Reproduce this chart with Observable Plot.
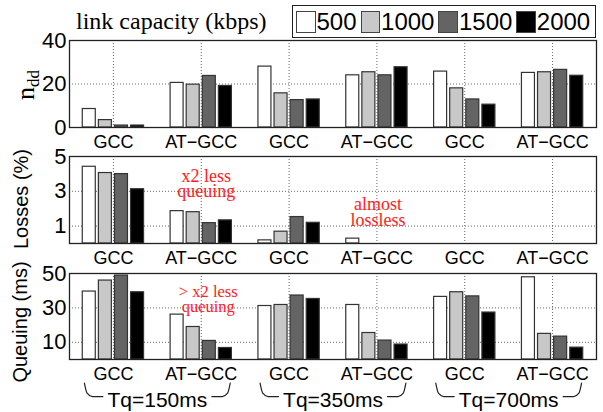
<!DOCTYPE html>
<html>
<head>
<meta charset="utf-8">
<script src="https://cdn.jsdelivr.net/npm/d3@7"></script>
<script src="https://cdn.jsdelivr.net/npm/@observablehq/plot@0.6"></script>
<style>
  body { margin: 0; background: #fff; }
  #chart { position: relative; width: 603px; height: 412px; overflow: hidden; background: #fff; }
  .panel { position: absolute; left: 0; }
  #legendTitle { position: absolute; left: 76px; top: 9px; font-family: "Liberation Serif", "Times New Roman", serif; font-size: 24px; line-height: 24px; white-space: nowrap; }
  #legend { position: absolute; left: 292px; top: 5px; width: 304px; height: 33px; box-sizing: border-box; border: 1.5px solid #222; display: flex; align-items: center; padding-left: 3px; background: #fff; }
  .sw { width: 19.5px; height: 22px; box-sizing: border-box; border: 1.2px solid #444; margin-right: 1px; }
  .lab { font-family: "Liberation Sans", Arial, sans-serif; font-size: 24px; line-height: 24px; margin-right: 4px; }
  .ylab { position: absolute; white-space: nowrap; transform: translate(-50%, -50%) rotate(-90deg); line-height: 1; }
  .ylab.sans { font-family: "Liberation Sans", Arial, sans-serif; font-size: 20px; }
  .ylab.serif { font-family: "Liberation Serif", "Times New Roman", serif; font-size: 26px; }
  .ylab sub { font-size: 17px; vertical-align: -5px; line-height: 1; }
</style>
</head>
<body>
<div id="chart"></div>
<script>
// ---------- data ----------
const groups = ["GCC 150", "AT-GCC 150", "GCC 350", "AT-GCC 350", "GCC 700", "AT-GCC 700"];
const groupLabels = {"GCC": "GCC", "AT-GCC": "AT\u2212GCC"};
const capacities = ["500", "1000", "1500", "2000"];
const capacityColors = ["#ffffff", "#c8c8c8", "#646464", "#000000"];
const tqLabels = ["Tq=150ms", "Tq=350ms", "Tq=700ms"];

const ndd500  = [8.5, 20.5, 28.0, 24.0, 25.7, 25.1];
const ndd1000 = [3.4, 19.7, 15.7, 25.4, 18.0, 25.4];
const ndd1500 = [0.9, 23.7, 12.6, 24.0, 12.9, 26.5];
const ndd2000 = [0.9, 19.1, 12.9, 27.7, 10.5, 23.8];

const loss500  = [4.41, 1.86, 0.18, 0.28, 0, 0];
const loss1000 = [4.05, 1.80, 0.68, 0, 0, 0];
const loss1500 = [3.99, 1.17, 1.52, 0, 0, 0];
const loss2000 = [3.12, 1.33, 1.19, 0, 0, 0];

const queue500  = [39.5, 26.1, 31.1, 31.7, 36.4, 47.8];
const queue1000 = [45.9, 18.9, 31.7, 15.4, 39.1, 14.9];
const queue1500 = [48.8, 10.8, 37.2, 11.0, 36.7, 13.3];
const queue2000 = [39.1, 6.7, 35.2, 8.7, 27.3, 6.9];

const nddTicks = [0, 20, 40];
const lossTicks = [1, 3, 5];
const queueTicks = [10, 30, 50];

// ---------- helpers ----------
const SANS = "Liberation Sans, Arial, Helvetica, sans-serif";
const SERIF = "Liberation Serif, Times New Roman, serif";
const W = 603, ML = 69, MR = 7;
const chart = document.getElementById("chart");
const red = "#ff2020";

function rows(seriesArrays) {
  const out = [];
  seriesArrays.forEach((arr, j) => arr.forEach((v, i) => out.push({group: groups[i], capacity: capacities[j], value: v})));
  return out;
}

function panel({data, yDomain, yTicks, top, plotH, extra}) {
  const marginTop = 10, marginBottom = 28;
  const bw = (W - ML - MR) / groups.length;
  const barW = 13, step = 16.1;
  const inset = (bw - barW) / 2;
  const grid = {stroke: "#666", strokeOpacity: 1, strokeDasharray: "1,2", strokeWidth: 1};
  const p = Plot.plot({
    width: W, height: marginTop + plotH + marginBottom,
    marginLeft: ML, marginRight: MR, marginTop, marginBottom,
    style: {fontFamily: SANS, background: "transparent", overflow: "visible", color: "#000"},
    x: {domain: groups, padding: 0, round: false, axis: null},
    y: {domain: yDomain, axis: null},
    color: {domain: capacities, range: capacityColors},
    marks: [
      Plot.gridY(yTicks, grid),
      Plot.gridX(groups, grid),
      ...capacities.map((c, j) => Plot.barY(data.filter(d => d.capacity === c), {
        x: "group", y: "value", fill: "capacity",
        stroke: "#333", strokeWidth: 1.2,
        insetLeft: inset, insetRight: inset, dx: (j - 1.5) * step
      })),
      Plot.frame({stroke: "#222", strokeWidth: 1.3}),
      Plot.axisY(yTicks, {tickSize: 0, tickPadding: 3, fontSize: 22, label: null}),
      Plot.axisX(groups, {tickSize: 0, tickPadding: 8, fontSize: 18, label: null,
        tickFormat: g => groupLabels[g.split(" ")[0]]}),
      ...extra
    ]
  });
  p.classList.add("panel");
  p.style.top = (top - marginTop) + "px";
  chart.appendChild(p);
}

function yLabel(html, cls, cx, cy) {
  const d = document.createElement("div");
  d.className = "ylab " + cls;
  d.innerHTML = html;
  d.style.left = cx + "px";
  d.style.top = cy + "px";
  chart.appendChild(d);
}

// Panel 1: n_dd
panel({
  data: rows([ndd500, ndd1000, ndd1500, ndd2000]),
  yDomain: [0, 40], yTicks: nddTicks, top: 40, plotH: 87,
  extra: []
});

// Panel 2: Losses
panel({
  data: rows([loss500, loss1000, loss1500, loss2000]),
  yDomain: [0, 5], yTicks: lossTicks, top: 156, plotH: 87,
  extra: [
    Plot.text(["x2 less\nqueuing"], {x: () => "AT-GCC 150", y: () => 2.7, dx: 5, lineAnchor: "bottom", lineHeight: 0.8, fontSize: 18, fontFamily: SERIF, fill: red}),
    Plot.text(["almost\nlossless"], {x: () => "AT-GCC 350", y: () => 0.98, dx: 1, lineAnchor: "bottom", lineHeight: 0.93, fontSize: 18, fontFamily: SERIF, fill: red})
  ]
});

// Panel 3: Queuing
panel({
  data: rows([queue500, queue1000, queue1500, queue2000]),
  yDomain: [0, 50], yTicks: queueTicks, top: 273, plotH: 86,
  extra: [
    Plot.text(["> x2 less\nqueuing"], {x: () => "AT-GCC 150", y: () => 27.5, dx: 7, lineAnchor: "bottom", lineHeight: 0.9, fontSize: 16.5, fontFamily: SERIF, fill: red})
  ]
});

// Tq row with braces
const braces = [];
tqLabels.forEach((t, i) => {
  [[0.085, 0.70], [0.10, 0.46], [0.13, 0.38], [0.19, 0.38]].forEach(([o, y]) => braces.push({x: i + o, y, z: t + "L"}));
  [[0.81, 0.38], [0.87, 0.38], [0.90, 0.46], [0.915, 0.70]].forEach(([o, y]) => braces.push({x: i + o, y, z: t + "R"}));
});
const tq = Plot.plot({
  width: W, height: 42, marginLeft: ML, marginRight: MR, marginTop: 0, marginBottom: 0,
  style: {fontFamily: SANS, background: "transparent", overflow: "visible"},
  x: {domain: [0, tqLabels.length], axis: null},
  y: {domain: [0, 1], axis: null},
  marks: [
    Plot.line(braces, {x: "x", y: "y", z: "z", curve: "monotone-x", stroke: "#222", strokeWidth: 1.2}),
    Plot.text(tqLabels, {x: (d, i) => i + 0.5, y: () => 0.30, fontSize: 21})
  ]
});
tq.classList.add("panel");
tq.style.top = "370px";
chart.appendChild(tq);

// Y-axis titles
yLabel("n<sub>dd</sub>", "serif", 27, 85);
yLabel("Losses (%)", "sans", 21, 199);
yLabel("Queuing (ms)", "sans", 20, 322);

// Legend
const title = document.createElement("div");
title.id = "legendTitle";
title.textContent = "link capacity (kbps)";
chart.appendChild(title);
const legend = document.createElement("div");
legend.id = "legend";
capacities.forEach((c, j) => {
  const sw = document.createElement("div");
  sw.className = "sw";
  sw.style.background = capacityColors[j];
  const lab = document.createElement("span");
  lab.className = "lab";
  lab.textContent = c;
  legend.appendChild(sw);
  legend.appendChild(lab);
});
chart.appendChild(legend);
</script>
</body>
</html>
